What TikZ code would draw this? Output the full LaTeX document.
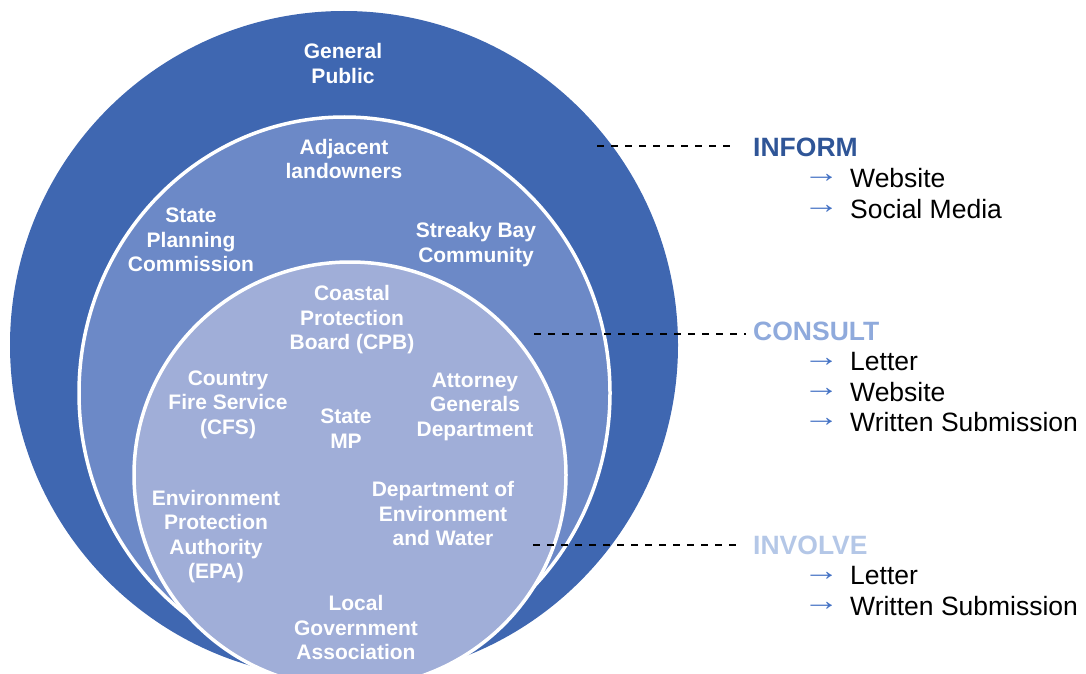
\documentclass[tikz,border=0pt]{standalone}
\usepackage{fontspec}
\setmainfont{Liberation Sans}
\definecolor{outerblue}{RGB}{63,103,177}
\definecolor{midblue}{RGB}{108,137,199}
\definecolor{innerblue}{RGB}{160,174,216}
\definecolor{informc}{RGB}{47,85,151}
\definecolor{consultc}{RGB}{143,170,220}
\definecolor{involvec}{RGB}{180,199,231}
\definecolor{arrowc}{RGB}{68,114,196}
\newcommand{\bularrow}{\scalebox{1.4}[1.1]{→}}
\begin{document}
\begin{tikzpicture}[x=1pt,y=-1pt,
  circtext/.style={text=white, font=\fontsize{21}{24.5}\selectfont\bfseries, align=center, inner sep=0pt},
  head/.style={font=\fontsize{26.5}{30}\selectfont\bfseries, anchor=west, inner sep=0pt},
  item/.style={font=\fontsize{26.5}{30}\selectfont, anchor=west, inner sep=0pt},
  arr/.style={font=\fontsize{26}{28}\selectfont, text=arrowc, anchor=west, inner sep=0pt},
  leader/.style={draw=black, line width=1.3pt, dash pattern=on 7pt off 7pt},
  ring/.style={draw=white, line width=3.5pt}]
\useasboundingbox (0,0) rectangle (1086,674);
\begin{scope}
  \clip (0,0) rectangle (1086,674);
  \path[fill=outerblue] (344,345) circle [radius=334pt];
  \path[fill=midblue, ring] (344.5,393) ellipse [x radius=265.5pt, y radius=276pt];
  \path[fill=innerblue, ring] (350,475) ellipse [x radius=216pt, y radius=213pt];
\end{scope}

% circle texts
\node[circtext] (gp) at (343,63.5) {General\\Public};
\node[circtext] (al) at (344,159) {Adjacent\\landowners};
\node[circtext] (spc) at (191,240) {State\\Planning\\Commission};
\node[circtext] (sbc) at (476,244.5) {Streaky Bay\\Community};
\node[circtext] (cpb) at (352,320) {Coastal\\Protection\\Board (CPB)};
\node[circtext] (cfs) at (228,404.5) {Country\\Fire Service\\(CFS)};
\node[circtext] (mp) at (346,428.5) {State\\MP};
\node[circtext] (agd) at (475,406.5) {Attorney\\Generals\\Department};
\node[circtext] (epa) at (216,536.5) {Environment\\Protection\\Authority\\(EPA)};
\node[circtext] (dew) at (443,513.5) {Department of\\Environment\\and Water};
\node[circtext] (lga) at (356,627.5) {Local\\Government\\Association};

% right side
\node[head, text=informc] (inform) at (753,147) {INFORM};
\node[arr] (a1) at (803,178) {\bularrow};
\node[item] (i1) at (850,178) {Website};
\node[arr] (a2) at (803,209) {\bularrow};
\node[item] (i2) at (850,209) {Social Media};

\node[head, text=consultc] (consult) at (753,331) {CONSULT};
\node[arr] (a3) at (803,362) {\bularrow};
\node[item] (c1) at (850,362) {Letter};
\node[arr] (a4) at (803,392) {\bularrow};
\node[item] (c2) at (850,392) {Website};
\node[arr] (a5) at (803,422) {\bularrow};
\node[item] (c3) at (850,422) {Written Submission};

\node[head, text=involvec] (involve) at (753,545) {INVOLVE};
\node[arr] (a6) at (803,576) {\bularrow};
\node[item] (v1) at (850,576) {Letter};
\node[arr] (a7) at (803,606) {\bularrow};
\node[item] (v2) at (850,606) {Written Submission};

% leader lines
\coordinate (l1) at (597,146);
\coordinate (l2) at (534,334);
\coordinate (l3) at (533,545);
\draw[leader] (l1) -- ([xshift=-23pt,yshift=1pt]inform.west);
\draw[leader] (l2) -- ([xshift=-7pt,yshift=-3pt]consult.west);
\draw[leader] (l3) -- ([xshift=-10pt]involve.west);
\end{tikzpicture}
\end{document}
